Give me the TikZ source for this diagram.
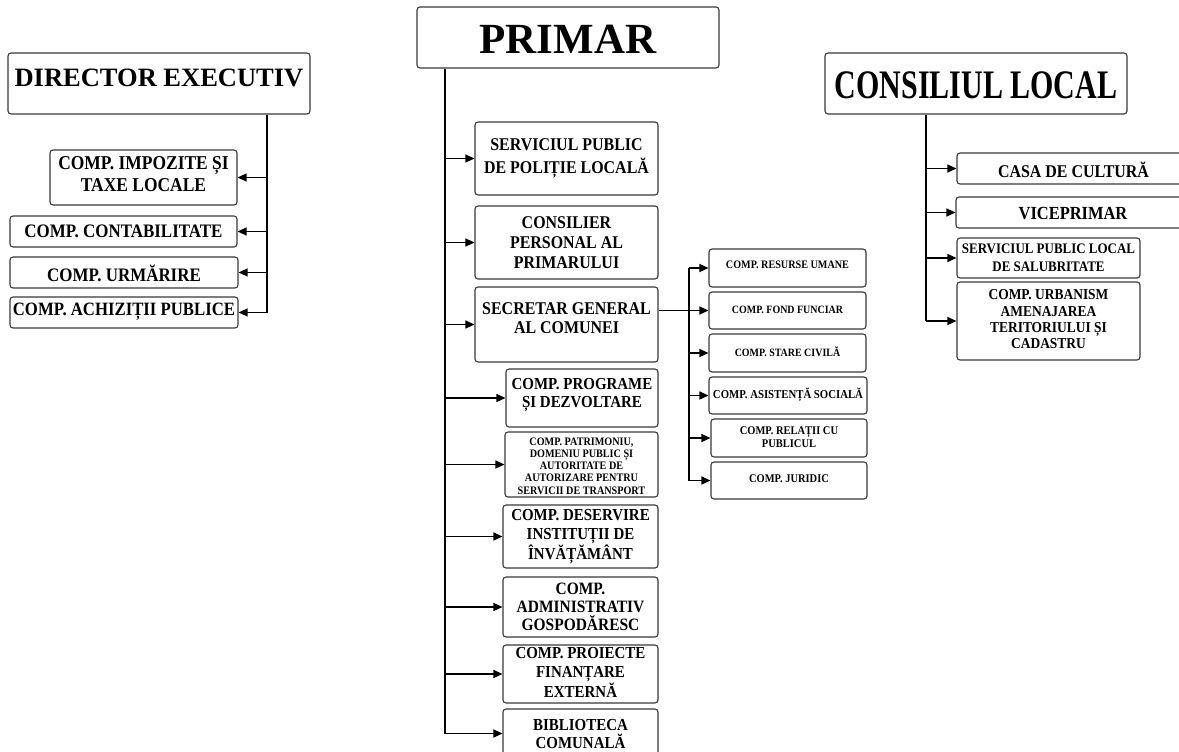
\documentclass[tikz,border=0pt]{standalone}
\usepackage{fontspec}
\setmainfont{Liberation Serif}
\newfontfamily\cf[FakeStretch=0.89]{Liberation Serif}
\newfontfamily\clf[FakeStretch=0.74]{Liberation Serif}
\usetikzlibrary{arrows.meta,calc}
\definecolor{boxc}{HTML}{3A3A3A}
\tikzset{
  boxst/.style={draw=boxc, line width=1.1pt, rounded corners=3pt, inner sep=0pt, fill=white},
  txt/.style={align=center, inner sep=0pt},
  arr/.style={line width=1.2pt, -{Triangle[length=9pt,width=8pt]}},
  ln/.style={line width=1.2pt},
}
% name x1 y1 x2 y2 texty size leading text
\newcommand{\bx}[9]{%
  \pgfmathsetmacro\fsz{#7*1.12}%
  \node[boxst, minimum width={(#4-#2)*1pt}, minimum height={(#5-#3)*1pt}] (#1) at ({(#2+#4)/2},{(#3+#5)/2}) {};
  \node[txt, font=\cf\bfseries\fontsize{\fsz}{#8}\selectfont] (#1t) at ({(#2+#4)/2},#6) {#9};
}
\begin{document}
\begin{tikzpicture}[x=1pt,y=-1pt]
\path[use as bounding box] (0,0) rectangle (1179,752);
\clip (0,0) rectangle (1179,752);
\fill[white] (0,0) rectangle (1179,752);

% left column
\node[boxst, minimum width=302pt, minimum height=61pt] (dir) at (159,83.5) {};
\node[txt, font=\bfseries\fontsize{26.5}{30}\selectfont] (dirt) at (159,78) {DIRECTOR EXECUTIV};
\bx{imp}{50}{150}{237}{205}{174}{17.5}{22}{COMP. IMPOZITE ȘI\\TAXE LOCALE}
\bx{con}{10}{216}{237}{247}{231}{17}{20}{COMP. CONTABILITATE}
\bx{urm}{10}{257}{238}{288}{273}{17}{20}{COMP. URMĂRIRE}
\bx{ach}{10}{297}{238}{328}{312}{16.8}{20}{COMP. ACHIZIȚII PUBLICE}

% middle column
\node[boxst, minimum width=302pt, minimum height=61pt] (pri) at (568,37.5) {};
\node[txt, font=\bfseries\fontsize{43}{50}\selectfont] (prit) at (568,39) {PRIMAR};
\bx{spl}{475}{122}{658}{195}{158}{16}{23}{SERVICIUL PUBLIC\\DE POLIȚIE LOCALĂ}
\bx{csp}{475}{206}{658}{279}{243}{16}{20}{CONSILIER\\PERSONAL AL\\PRIMARULUI}
\bx{sec}{475}{287}{658}{362}{318}{16}{19}{SECRETAR GENERAL\\AL COMUNEI}
\bx{prg}{506}{369}{658}{427}{395}{15}{18}{COMP. PROGRAME\\ȘI DEZVOLTARE}
\bx{pat}{505}{432}{658}{497}{466}{10.2}{12.3}{COMP. PATRIMONIU,\\DOMENIU PUBLIC ȘI\\AUTORITATE DE\\AUTORIZARE PENTRU\\SERVICII DE TRANSPORT}
\bx{des}{503}{505}{658}{568}{536.5}{15}{18.3}{COMP. DESERVIRE\\INSTITUȚII DE\\ÎNVĂȚĂMÂNT}
\bx{adm}{503}{577}{658}{637}{607}{15.5}{18.3}{COMP.\\ADMINISTRATIV\\GOSPODĂRESC}
\bx{pro}{503}{645}{658}{703}{672.5}{15}{18.3}{COMP. PROIECTE\\FINANȚARE\\EXTERNĂ}
\bx{bib}{503}{709}{658}{758}{734}{15}{18.3}{BIBLIOTECA\\COMUNALĂ}

% secretar sub-boxes
\bx{res}{709}{249}{866}{287}{265}{10.2}{12}{COMP. RESURSE UMANE}
\bx{ffu}{709}{292}{866}{329}{310}{10}{12}{COMP. FOND FUNCIAR}
\bx{stc}{709}{334}{866}{372}{351.5}{10}{12}{COMP. STARE CIVILĂ}
\bx{asi}{709}{377}{867}{414}{395}{10.8}{12}{COMP. ASISTENȚĂ SOCIALĂ}
\bx{rel}{711}{419}{867}{457}{437.5}{10.5}{13}{COMP. RELAȚII CU\\PUBLICUL}
\bx{jur}{711}{462}{867}{499}{478.5}{10.5}{12}{COMP. JURIDIC}

% right column
\node[boxst, minimum width=302pt, minimum height=61pt] (cl) at (976,83.5) {};
\node[txt, font=\clf\bfseries\fontsize{40.5}{44}\selectfont] (clt) at (976,85.5) {CONSILIUL LOCAL};
\bx{cas}{957}{153}{1190}{184}{170}{16}{19}{CASA DE CULTURĂ}
\bx{vic}{956}{197}{1190}{228}{213.5}{16.5}{19}{VICEPRIMAR}
\bx{sal}{957}{238}{1140}{278}{257.5}{13}{18}{SERVICIUL PUBLIC LOCAL\\DE SALUBRITATE}
\bx{urb}{957}{282}{1140}{360}{319.5}{13.5}{16.3}{COMP. URBANISM\\AMENAJAREA\\TERITORIULUI ȘI\\CADASTRU}

% connectors: director
\coordinate (dbus) at (267,0);
\draw[ln] (dir.south -| dbus) -- (ach.east -| dbus);
\foreach \n in {imp,con,urm,ach} \draw[arr] (\n.east -| dbus) -- (\n.east);

% connectors: primar
\coordinate (pbus) at (445,0);
\draw[ln] (pri.south -| pbus) -- (bib.west -| pbus);
\foreach \n in {spl,csp,sec,prg,pat,des,adm,pro,bib} \draw[arr] (\n.west -| pbus) -- (\n.west);

% connectors: secretar
\coordinate (sbus) at (689,0);
\draw[arr] (sec.east |- ffu.west) -- (ffu.west);
\draw[ln] (res.west -| sbus) -- (jur.west -| sbus);
\foreach \n in {res,stc,asi,rel,jur} \draw[arr] (\n.west -| sbus) -- (\n.west);

% connectors: consiliul local
\coordinate (cbus) at (926,0);
\draw[ln] (cl.south -| cbus) -- (urb.west -| cbus);
\foreach \n in {cas,vic,sal,urb} \draw[arr] (\n.west -| cbus) -- (\n.west);
\end{tikzpicture}
\end{document}
